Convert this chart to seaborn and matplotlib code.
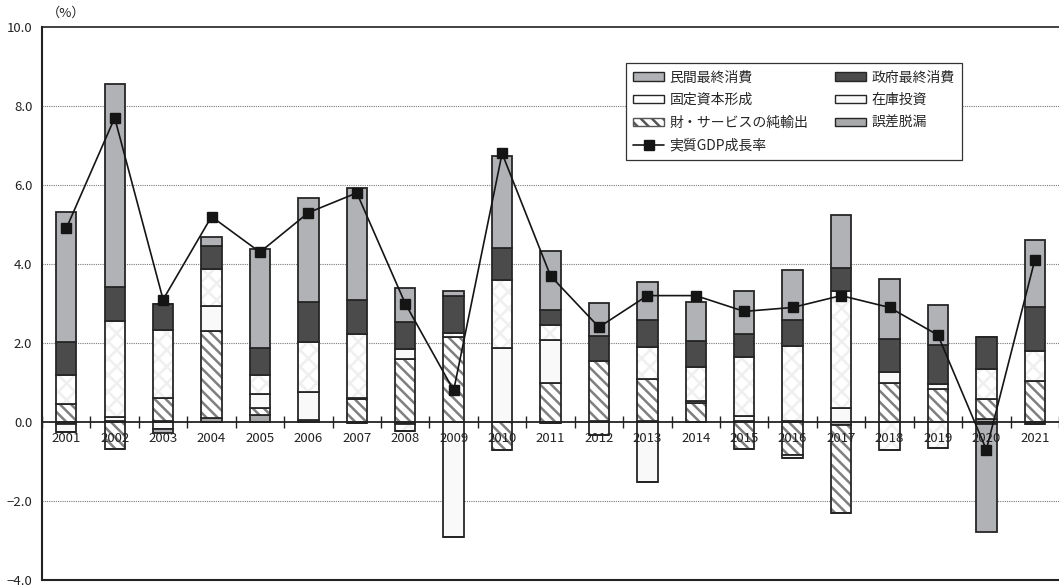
import numpy as np
import matplotlib
matplotlib.use("Agg")
import matplotlib.pyplot as plt
from matplotlib.patches import Patch
from matplotlib.lines import Line2D
from matplotlib.ticker import FixedLocator, FuncFormatter
import seaborn as sns

# contributions to real GDP growth (percentage points), 2001-2021
years = [str(y) for y in range(2001, 2022)]
priv = [3.29, 5.12, -0.10, 0.23, 2.49, 2.64, 2.82, 0.87, 0.11, 2.32, 1.50,
        0.83, 0.96, 0.98, 1.08, 1.27, 1.35, 1.54, 1.02, -2.74, 1.68]
gov = [0.84, 0.87, 0.67, 0.59, 0.70, 1.01, 0.88, 0.66, 0.95, 0.81, 0.37,
       0.64, 0.69, 0.65, 0.58, 0.66, 0.58, 0.82, 1.00, 0.82, 1.12]
fixed = [0.74, 2.44, 1.73, 0.93, 0.48, 1.26, 1.60, -0.20, 0.11, 1.73, 0.38,
         0.00, 0.79, 0.86, 1.49, 1.89, 2.96, -0.71, -0.66, 0.76, 0.77]
inv = [-0.21, 0.09, -0.18, 0.63, 0.35, 0.72, 0.05, 0.26, -2.92, 1.87, 1.09,
       -0.34, -1.51, 0.06, 0.13, -0.06, 0.36, 0.27, 0.12, -0.05, -0.05]
nx = [0.45, -0.68, 0.58, 2.22, 0.16, 0.04, 0.57, 1.60, 2.14, -0.70, 0.99,
      1.52, 1.07, 0.48, -0.69, -0.84, -2.22, 1.00, 0.83, 0.49, 1.03]
err = [-0.05, 0.03, 0.02, 0.09, 0.19, 0.01, -0.03, -0.04, 0.00, 0.00, -0.03,
       0.02, 0.03, 0.00, 0.03, 0.03, -0.08, 0.00, 0.00, 0.08, 0.00]
gdp = [4.9, 7.7, 3.1, 5.2, 4.3, 5.3, 5.8, 3.0, 0.8, 6.8, 3.7,
       2.4, 3.2, 3.2, 2.8, 2.9, 3.2, 2.9, 2.2, -0.7, 4.1]

sns.set_theme(style="white")
plt.rcParams["font.family"] = ["Noto Sans CJK JP", "DejaVu Sans"]
plt.rcParams["hatch.linewidth"] = 1.8
plt.rcParams["axes.unicode_minus"] = True

EDGE = "#262626"
C_PRIV = "#b1b2b5"
C_GOV = "#4b4b4b"
C_ERR = "#a8a9ab"
C_INV = "#f9f9f9"
HATCH_NX = "#7f7f7f"
HATCH_FIX = "#efefef"

fig = plt.figure(figsize=(10.59, 5.87), dpi=100)
ax = fig.add_axes([0.0397, 0.0119, 0.9603, 0.9421])

# stacking order, bottom to top
series = [
    (err, C_ERR, None, None),
    (nx, "white", "\\\\\\", HATCH_NX),
    (inv, C_INV, None, None),
    (fixed, "white", "xx", HATCH_FIX),
    (gov, C_GOV, None, None),
    (priv, C_PRIV, None, None),
]

bw = 0.42
n = len(years)
pos_base = np.zeros(n)
neg_base = np.zeros(n)
for vals, face, hatch, hcol in series:
    v = np.array(vals, dtype=float)
    up = np.where(v > 0, v, 0.0)
    dn = np.where(v < 0, v, 0.0)
    for h, base in ((up, pos_base), (dn, neg_base)):
        if hatch:
            sns.barplot(x=years, y=h, bottom=base.copy(), color=face,
                        edgecolor=hcol, hatch=hatch, linewidth=0, width=bw,
                        errorbar=None, ax=ax, zorder=1)
            sns.barplot(x=years, y=h, bottom=base.copy(), color=EDGE,
                        fill=False, linewidth=1.3, width=bw,
                        errorbar=None, ax=ax, zorder=1)
        else:
            sns.barplot(x=years, y=h, bottom=base.copy(), color=face,
                        edgecolor=EDGE, linewidth=1.3, width=bw,
                        errorbar=None, ax=ax, zorder=1)
    pos_base += up
    neg_base += dn

# GDP growth line
ax.plot(np.arange(n), gdp, color="#151515", lw=1.2, marker="s",
        markersize=7.5, zorder=4)

ax.set_xlim(-0.5, n - 0.5)
ax.set_ylim(-4, 10)
ax.set_yticks(np.arange(-4, 10.1, 2))
ax.yaxis.set_major_formatter(FuncFormatter(lambda v, p: f"{v:.1f}".replace("-", "\u2212")))
ax.tick_params(axis="y", length=0, pad=7, labelsize=9.5, colors="#222")

for t in ax.get_yticks():
    if -4 < t < 10 and t != 0:
        ax.axhline(t, color="#7a7a7a", lw=0.8, ls=(0, (1, 1)), zorder=0.5)

ax.set_axisbelow(False)
ax.spines["bottom"].set_position(("data", 0))
ax.spines["right"].set_visible(False)
for s in ("bottom", "left", "top"):
    ax.spines[s].set_color("#222")
ax.spines["left"].set_linewidth(1.5)
ax.spines["top"].set_linewidth(1.2)
ax.spines["bottom"].set_linewidth(1.3)
ax.axhline(-4, color="#222", lw=1.5, clip_on=False, zorder=3)

ax.set_xticks(np.arange(n))
ax.set_xticklabels(years)
ax.xaxis.set_minor_locator(FixedLocator(np.arange(-0.5, n, 1)))
ax.tick_params(axis="x", which="major", length=0, pad=7, labelsize=9.5, colors="#222")
ax.tick_params(axis="x", which="minor", bottom=True, length=9, width=1.0,
               direction="inout", color="#222")
ax.set_xlabel("")
ax.set_ylabel("")

fig.text(66 / 1059, 1 - 13 / 587, "（%）", ha="center", va="center",
         fontsize=9.5, color="#222")

handles = [
    Patch(facecolor=C_PRIV, edgecolor=EDGE, label="民間最終消費"),
    Patch(facecolor="white", edgecolor=EDGE, label="固定資本形成"),
    Patch(facecolor="white", edgecolor="#555", hatch="\\\\\\", label="財・サービスの純輸出"),
    Line2D([], [], color="#151515", lw=1.2, marker="s", markersize=7.5, label="実質GDP成長率"),
    Patch(facecolor=C_GOV, edgecolor=EDGE, label="政府最終消費"),
    Patch(facecolor=C_INV, edgecolor=EDGE, label="在庫投資"),
    Patch(facecolor=C_ERR, edgecolor=EDGE, label="誤差脱漏"),
]
leg = ax.legend(handles=handles, ncol=2, loc="upper left",
                bbox_to_anchor=(0.574, 0.76, 0.331, 0.175), mode="expand",
                fontsize=10, frameon=True, fancybox=False, framealpha=1,
                edgecolor="#333", handlelength=2.2, handleheight=0.55,
                handletextpad=0.4, labelspacing=0.62, borderpad=0.55,
                columnspacing=0.8, borderaxespad=0)
leg.get_frame().set_linewidth(0.9)
leg.set_zorder(5)

fig.savefig("out.png", dpi=100)
